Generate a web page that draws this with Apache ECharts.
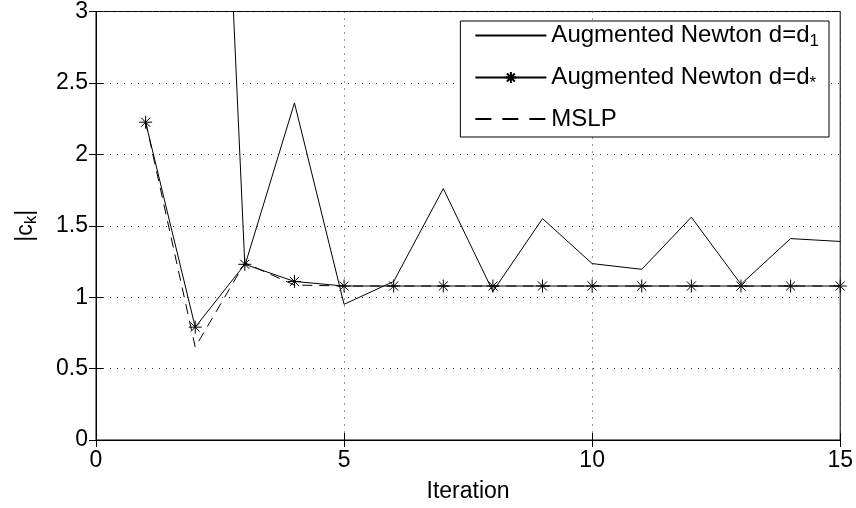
<!DOCTYPE html>
<html>
<head>
<meta charset="utf-8">
<script src="https://cdn.jsdelivr.net/npm/echarts@6/dist/echarts.min.js"></script>
<style>
  html, body { margin: 0; padding: 0; background: #fff; }
  #chart { width: 856px; height: 508px; }
</style>
</head>
<body>
<div id="chart"></div>
<script>
// iterations on the x axis
const iterations = [1, 2, 3, 4, 5, 6, 7, 8, 9, 10, 11, 12, 13, 14, 15]
// |c_k| per iteration (first d1 value is off the chart)
const newtonD1 = [null, 8.96, 1.22, 2.36, 0.95, 1.11, 1.76, 1.04, 1.55, 1.235, 1.195, 1.56, 1.09, 1.41, 1.39]
const newtonDStar = [2.225, 0.79, 1.23, 1.11, 1.078, 1.078, 1.078, 1.078, 1.078, 1.078, 1.078, 1.078, 1.078, 1.078, 1.078]
const mslp = [2.23, 0.65, 1.24, 1.085, 1.078, 1.078, 1.078, 1.078, 1.078, 1.078, 1.078, 1.078, 1.078, 1.078, 1.078]
const yTicks = [0, 0.5, 1, 1.5, 2, 2.5, 3]

const seriesNames = ['Augmented Newton d=d1', 'Augmented Newton d=d*', 'MSLP']

const FONT = 'Liberation Sans'
const star = 'path://M0,-10L0,10M-10,0L10,0M-7,-7L7,7M-7,7L7,-7'

const pairs = (vals) => iterations.map((x, i) => [x, vals[i]])

const chart = echarts.init(document.getElementById('chart'))

const tickStyle = { inside: true, length: 7, lineStyle: { color: '#000', width: 1 } }
const subRich = (size) => ({
    a: { fontFamily: FONT, fontSize: size, color: '#000', lineHeight: size + 4 },
    s: { fontFamily: FONT, fontSize: 17, color: '#000', lineHeight: 17, padding: [12, 0, 0, 0] },
})

const option = {
    backgroundColor: '#fff',
    animation: false,
    grid: {
        left: 96, right: 15, top: 8, bottom: 66,
        show: true, borderColor: '#000', borderWidth: 1,
    },
    legend: {
        orient: 'vertical',
        right: 27,
        top: 21,
        padding: [0, 10, 4, 14],
        itemWidth: 71,
        itemHeight: 14,
        itemGap: 13,
        borderColor: '#000',
        borderWidth: 1,
        borderRadius: 0,
        backgroundColor: '#fff',
        data: [
            { name: seriesNames[0], itemStyle: { opacity: 0 } },
            { name: seriesNames[1] },
            { name: seriesNames[2], itemStyle: { opacity: 0 }, lineStyle: { type: [16, 11] } },
        ],
        formatter: (name) => {
            if (name === seriesNames[0]) return '{a|Augmented Newton d=d}{s|1}'
            if (name === seriesNames[1]) return '{a|Augmented Newton d=d}{s|*}'
            return '{a|MSLP}'
        },
        textStyle: { fontFamily: FONT, fontSize: 24, lineHeight: 28, rich: subRich(24) },
    },
    xAxis: [
        {
            type: 'value', min: 0, max: 15, interval: 5,
            name: 'Iteration', nameLocation: 'middle', nameGap: 40,
            nameTextStyle: { fontFamily: FONT, fontSize: 23, color: '#000' },
            axisLine: { show: true, lineStyle: { color: '#000' } },
            axisTick: tickStyle,
            axisLabel: { fontFamily: FONT, fontSize: 23, color: '#000', margin: 9 },
            splitLine: { show: true, lineStyle: { color: '#333', type: [1, 6] } },
        },
        {
            type: 'value', min: 0, max: 15, interval: 5, position: 'top',
            axisLine: { show: true, lineStyle: { color: '#000' } },
            axisTick: tickStyle,
            axisLabel: { show: false },
            splitLine: { show: false },
        },
    ],
    yAxis: [
        {
            type: 'value', min: 0, max: 3, interval: 0.5,
            name: '{a||c}{s|k}{a||}', nameLocation: 'middle', nameGap: 57, nameRotate: 90,
            nameTextStyle: { rich: subRich(23) },
            axisLine: { show: true, lineStyle: { color: '#000' } },
            axisTick: tickStyle,
            axisLabel: { fontFamily: FONT, fontSize: 23, color: '#000', margin: 8,
                formatter: (v) => (yTicks.includes(v) ? String(v) : '') },
            splitLine: { show: true, lineStyle: { color: '#333', type: [1, 6] } },
        },
        {
            type: 'value', min: 0, max: 3, interval: 0.5, position: 'right',
            axisLine: { show: true, lineStyle: { color: '#000' } },
            axisTick: tickStyle,
            axisLabel: { show: false },
            splitLine: { show: false },
        },
    ],
    series: [
        {
            name: seriesNames[0], type: 'line', data: pairs(newtonD1),
            symbol: 'none', clip: true,
            lineStyle: { color: '#000', width: 1 },
            itemStyle: { color: '#000' },
        },
        {
            name: seriesNames[1], type: 'line', data: pairs(newtonDStar),
            symbol: star, symbolSize: 13, showSymbol: true, clip: true,
            lineStyle: { color: '#000', width: 1 },
            itemStyle: { color: '#000', borderColor: '#000', borderWidth: 1 },
        },
        {
            name: seriesNames[2], type: 'line', data: pairs(mslp),
            symbol: 'none', clip: true,
            lineStyle: { color: '#000', width: 1, type: [10, 7] },
            itemStyle: { color: '#000' },
        },
    ],
}

chart.setOption(option)
</script>
</body>
</html>
